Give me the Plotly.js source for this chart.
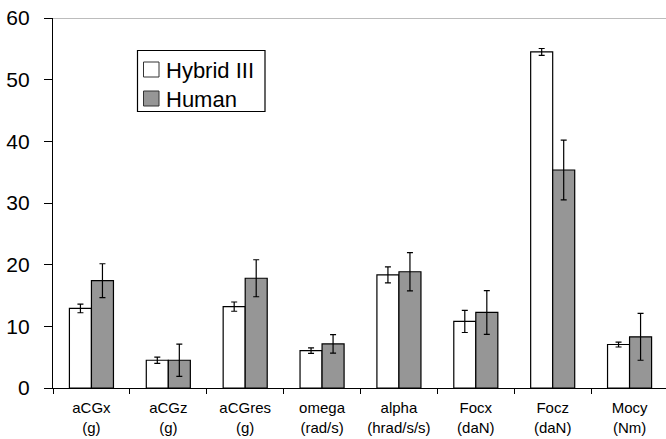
<!DOCTYPE html>
<html>
<head>
<meta charset="utf-8">
<script src="https://cdn.plot.ly/plotly-3.0.1.min.js"></script>
<style>
html,body{margin:0;padding:0;overflow:hidden;background:#fff;}
#chart{width:669px;height:439px;}
</style>
</head>
<body>
<div id="chart"></div>
<script>
const categories = ["aCGx<br>(g)", "aCGz<br>(g)", "aCGres<br>(g)", "omega<br>(rad/s)", "alpha<br>(hrad/s/s)", "Focx<br>(daN)", "Focz<br>(daN)", "Mocy<br>(Nm)"];
const seriesNames = ["Hybrid III", "Human"];
const hybridValues = [12.9, 4.5, 13.2, 6.05, 18.35, 10.8, 54.5, 7.05];
const hybridErrors = [0.7, 0.5, 0.75, 0.45, 1.3, 1.8, 0.55, 0.4];
const humanValues = [17.4, 4.5, 17.8, 7.15, 18.85, 12.25, 35.35, 8.3];
const humanErrors = [2.75, 2.6, 3.0, 1.5, 3.1, 3.55, 4.85, 3.8];
const yTicks = [0, 10, 20, 30, 40, 50, 60];
const seriesColors = ["#ffffff", "#969696"];

const W = 669, H = 439;
const M = {l: 53, r: 1, t: 18, b: 51};
const pw = W - M.l - M.r, ph = H - M.t - M.b;
const px = x => (x - M.l) / pw;
const py = y => (H - M.b - y) / ph;

const errStyle = {type: "data", visible: true, color: "#000", thickness: 1.2, width: 3};

const traces = [
  {
    type: "bar", name: seriesNames[0], x: categories, y: hybridValues,
    marker: {color: seriesColors[0], line: {color: "#000", width: 1.2}},
    error_y: Object.assign({array: hybridErrors}, errStyle)
  },
  {
    type: "bar", name: seriesNames[1], x: categories, y: humanValues,
    marker: {color: seriesColors[1], line: {color: "#000", width: 1.2}},
    error_y: Object.assign({array: humanErrors}, errStyle)
  }
];

// legend drawn as a box with two swatches
const legendRows = [69.5, 98.5];
const shapes = [
  {type: "line", xref: "paper", yref: "y", x0: 0, x1: 1, y0: 60, y1: 60,
   line: {color: "#a6a6a6", width: 1.5}},
  {type: "rect", xref: "paper", yref: "paper", x0: px(137.5), x1: px(265), y0: py(50.5), y1: py(111.5),
   line: {color: "#000", width: 1.2}, fillcolor: "#fff", layer: "above"}
];
const annotations = [];
legendRows.forEach((cy, i) => {
  shapes.push({type: "rect", xref: "paper", yref: "paper",
    x0: px(143.5), x1: px(159), y0: py(cy - 7.5), y1: py(cy + 7.5),
    line: {color: "#333", width: 1}, fillcolor: seriesColors[i], layer: "above"});
  annotations.push({xref: "paper", yref: "paper", x: px(164), y: py(cy + 1),
    xanchor: "left", yanchor: "middle", showarrow: false, text: seriesNames[i],
    font: {size: 22, color: "#000"}});
});

const layout = {
  width: W, height: H,
  margin: M,
  paper_bgcolor: "#fff", plot_bgcolor: "#fff",
  barmode: "group", bargap: 0.427, bargroupgap: 0,
  font: {family: "Liberation Sans, Arial, sans-serif", color: "#000"},
  showlegend: false,
  xaxis: {
    type: "category", showline: true, linecolor: "#000", linewidth: 1.2,
    ticks: "outside", tickson: "boundaries", ticklen: 5, tickcolor: "#000",
    tickfont: {size: 15, color: "#000"}, ticklabelstandoff: 6,
    showgrid: false, zeroline: false, fixedrange: true
  },
  yaxis: {
    range: [0, 60], tickvals: yTicks, ticktext: yTicks.map(String),
    showline: true, linecolor: "#000", linewidth: 1.2,
    ticks: "outside", ticklen: 8, tickcolor: "#000",
    tickfont: {size: 21, color: "#000"}, ticklabelstandoff: 10,
    showgrid: false, zeroline: false, fixedrange: true
  },
  shapes: shapes,
  annotations: annotations
};

Plotly.newPlot("chart", traces, layout, {displayModeBar: false, staticPlot: true});
</script>
</body>
</html>
